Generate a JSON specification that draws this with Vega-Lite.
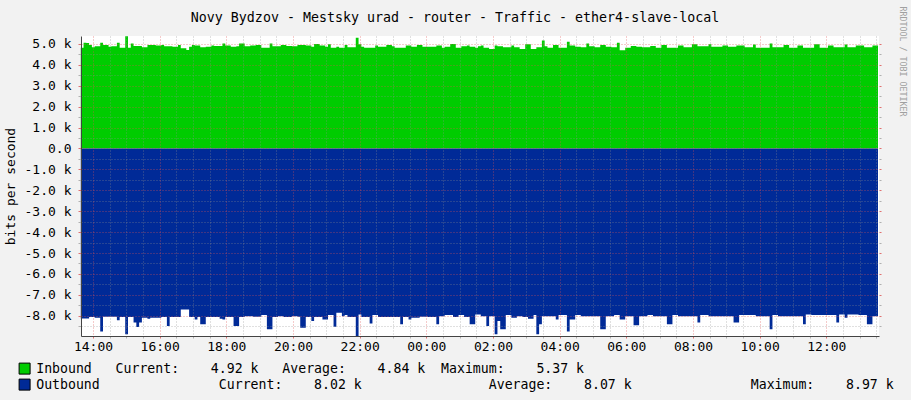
{
  "$schema": "https://vega.github.io/schema/vega-lite/v6.json",
  "width": 798,
  "height": 300,
  "autosize": {"type": "none"},
  "padding": {"left": 81, "top": 36, "right": 32, "bottom": 64},
  "background": "#f2f2f2",
  "config": {"font": "DejaVu Sans Mono", "view": {"stroke": null, "fill": "white"}},
  "title": {"text": "Novy Bydzov - Mestsky urad - router - Traffic - ether4-slave-local", "font": "DejaVu Sans Mono", "fontSize": 13.3, "fontWeight": "normal", "color": "black", "anchor": "middle", "frame": "group", "dx": -25, "offset": -29, "baseline": "alphabetic"},
  "data": {"values": [
{"t":"2024-01-15T13:38","in":4820,"out":-8130},{"t":"2024-01-15T13:43","in":5060,"out":-8130},{"t":"2024-01-15T13:48","in":5040,"out":-8130},{"t":"2024-01-15T13:53","in":4950,"out":-8060},{"t":"2024-01-15T13:58","in":4840,"out":-8060},{"t":"2024-01-15T14:03","in":4890,"out":-8100},{"t":"2024-01-15T14:08","in":4890,"out":-8100},{"t":"2024-01-15T14:13","in":5060,"out":-8760},{"t":"2024-01-15T14:18","in":4950,"out":-8050},{"t":"2024-01-15T14:23","in":4950,"out":-8050},{"t":"2024-01-15T14:28","in":4860,"out":-8050},{"t":"2024-01-15T14:33","in":4890,"out":-8050},
{"t":"2024-01-15T14:38","in":4890,"out":-8050},{"t":"2024-01-15T14:43","in":5060,"out":-8220},{"t":"2024-01-15T14:48","in":4820,"out":-8060},{"t":"2024-01-15T14:53","in":4820,"out":-8060},{"t":"2024-01-15T14:58","in":5370,"out":-8890},{"t":"2024-01-15T15:03","in":4820,"out":-8060},{"t":"2024-01-15T15:08","in":5020,"out":-8060},{"t":"2024-01-15T15:13","in":4900,"out":-8330},{"t":"2024-01-15T15:18","in":4900,"out":-8540},{"t":"2024-01-15T15:23","in":4900,"out":-8330},{"t":"2024-01-15T15:28","in":4840,"out":-8100},{"t":"2024-01-15T15:33","in":4840,"out":-8100},
{"t":"2024-01-15T15:38","in":4950,"out":-8140},{"t":"2024-01-15T15:43","in":4950,"out":-8100},{"t":"2024-01-15T15:48","in":4950,"out":-8100},{"t":"2024-01-15T15:53","in":4920,"out":-8100},{"t":"2024-01-15T15:58","in":4920,"out":-8100},{"t":"2024-01-15T16:03","in":4950,"out":-8060},{"t":"2024-01-15T16:08","in":4890,"out":-8060},{"t":"2024-01-15T16:13","in":4890,"out":-8490},{"t":"2024-01-15T16:18","in":4890,"out":-8060},{"t":"2024-01-15T16:23","in":4870,"out":-8060},{"t":"2024-01-15T16:28","in":4870,"out":-8060},{"t":"2024-01-15T16:33","in":4950,"out":-8060},
{"t":"2024-01-15T16:38","in":4790,"out":-7700},{"t":"2024-01-15T16:43","in":4790,"out":-7700},{"t":"2024-01-15T16:48","in":4710,"out":-7700},{"t":"2024-01-15T16:53","in":4870,"out":-8060},{"t":"2024-01-15T16:58","in":4950,"out":-8060},{"t":"2024-01-15T17:03","in":4920,"out":-8180},{"t":"2024-01-15T17:08","in":4920,"out":-8060},{"t":"2024-01-15T17:13","in":4840,"out":-8410},{"t":"2024-01-15T17:18","in":4840,"out":-8410},{"t":"2024-01-15T17:23","in":4870,"out":-8060},{"t":"2024-01-15T17:28","in":4870,"out":-8060},{"t":"2024-01-15T17:33","in":4920,"out":-8060},
{"t":"2024-01-15T17:38","in":4900,"out":-8060},{"t":"2024-01-15T17:43","in":4900,"out":-8060},{"t":"2024-01-15T17:48","in":4900,"out":-8140},{"t":"2024-01-15T17:53","in":5020,"out":-8180},{"t":"2024-01-15T17:58","in":4920,"out":-8060},{"t":"2024-01-15T18:03","in":4920,"out":-8060},{"t":"2024-01-15T18:08","in":4860,"out":-8060},{"t":"2024-01-15T18:13","in":4860,"out":-8490},{"t":"2024-01-15T18:18","in":4890,"out":-8490},{"t":"2024-01-15T18:23","in":5020,"out":-8060},{"t":"2024-01-15T18:28","in":5020,"out":-8060},{"t":"2024-01-15T18:33","in":4890,"out":-8020},
{"t":"2024-01-15T18:38","in":4890,"out":-8020},{"t":"2024-01-15T18:43","in":4920,"out":-8020},{"t":"2024-01-15T18:48","in":4920,"out":-8050},{"t":"2024-01-15T18:53","in":4950,"out":-8050},{"t":"2024-01-15T18:58","in":4950,"out":-8050},{"t":"2024-01-15T19:03","in":4820,"out":-7970},{"t":"2024-01-15T19:08","in":4820,"out":-7970},{"t":"2024-01-15T19:13","in":4820,"out":-8650},{"t":"2024-01-15T19:18","in":5020,"out":-8650},{"t":"2024-01-15T19:23","in":4890,"out":-8060},{"t":"2024-01-15T19:28","in":4890,"out":-8060},{"t":"2024-01-15T19:33","in":4890,"out":-8030},
{"t":"2024-01-15T19:38","in":4950,"out":-8030},{"t":"2024-01-15T19:43","in":4950,"out":-8060},{"t":"2024-01-15T19:48","in":4900,"out":-8060},{"t":"2024-01-15T19:53","in":4900,"out":-8060},{"t":"2024-01-15T19:58","in":4890,"out":-8020},{"t":"2024-01-15T20:03","in":4890,"out":-8020},{"t":"2024-01-15T20:08","in":4950,"out":-8050},{"t":"2024-01-15T20:13","in":4950,"out":-8570},{"t":"2024-01-15T20:18","in":4950,"out":-8570},{"t":"2024-01-15T20:23","in":4920,"out":-8060},{"t":"2024-01-15T20:28","in":4920,"out":-8060},{"t":"2024-01-15T20:33","in":4860,"out":-8250},
{"t":"2024-01-15T20:38","in":5000,"out":-8060},{"t":"2024-01-15T20:43","in":5000,"out":-8060},{"t":"2024-01-15T20:48","in":4920,"out":-8060},{"t":"2024-01-15T20:53","in":4920,"out":-8180},{"t":"2024-01-15T20:58","in":4860,"out":-8180},{"t":"2024-01-15T21:03","in":4980,"out":-7970},{"t":"2024-01-15T21:08","in":4820,"out":-7970},{"t":"2024-01-15T21:13","in":4820,"out":-8530},{"t":"2024-01-15T21:18","in":4870,"out":-7860},{"t":"2024-01-15T21:23","in":4820,"out":-7860},{"t":"2024-01-15T21:28","in":4820,"out":-8020},{"t":"2024-01-15T21:33","in":4950,"out":-7970},
{"t":"2024-01-15T21:38","in":4840,"out":-8060},{"t":"2024-01-15T21:43","in":4840,"out":-8060},{"t":"2024-01-15T21:48","in":4840,"out":-8060},{"t":"2024-01-15T21:53","in":5300,"out":-8970},{"t":"2024-01-15T21:58","in":4980,"out":-7940},{"t":"2024-01-15T22:03","in":4860,"out":-8060},{"t":"2024-01-15T22:08","in":4820,"out":-8060},{"t":"2024-01-15T22:13","in":4820,"out":-8060},{"t":"2024-01-15T22:18","in":4820,"out":-8370},{"t":"2024-01-15T22:23","in":4820,"out":-7970},{"t":"2024-01-15T22:28","in":4920,"out":-7970},{"t":"2024-01-15T22:33","in":4860,"out":-8060},
{"t":"2024-01-15T22:38","in":4860,"out":-8060},{"t":"2024-01-15T22:43","in":4860,"out":-8060},{"t":"2024-01-15T22:48","in":4950,"out":-8060},{"t":"2024-01-15T22:53","in":4950,"out":-8060},{"t":"2024-01-15T22:58","in":4890,"out":-8060},{"t":"2024-01-15T23:03","in":4820,"out":-8060},{"t":"2024-01-15T23:08","in":4820,"out":-8060},{"t":"2024-01-15T23:13","in":4820,"out":-8410},{"t":"2024-01-15T23:18","in":4820,"out":-8060},{"t":"2024-01-15T23:23","in":4920,"out":-8060},{"t":"2024-01-15T23:28","in":4920,"out":-8180},{"t":"2024-01-15T23:33","in":4860,"out":-8100},
{"t":"2024-01-15T23:38","in":4860,"out":-8100},{"t":"2024-01-15T23:43","in":4950,"out":-8100},{"t":"2024-01-15T23:48","in":4950,"out":-8050},{"t":"2024-01-15T23:53","in":4860,"out":-8050},{"t":"2024-01-15T23:58","in":4860,"out":-8050},{"t":"2024-01-16T00:03","in":4860,"out":-8060},{"t":"2024-01-16T00:08","in":4860,"out":-8060},{"t":"2024-01-16T00:13","in":4860,"out":-8060},{"t":"2024-01-16T00:18","in":4920,"out":-8410},{"t":"2024-01-16T00:23","in":4920,"out":-8020},{"t":"2024-01-16T00:28","in":4820,"out":-8020},{"t":"2024-01-16T00:33","in":4870,"out":-7970},
{"t":"2024-01-16T00:38","in":4870,"out":-7970},{"t":"2024-01-16T00:43","in":5000,"out":-7970},{"t":"2024-01-16T00:48","in":5000,"out":-8060},{"t":"2024-01-16T00:53","in":4820,"out":-8060},{"t":"2024-01-16T00:58","in":4820,"out":-7970},{"t":"2024-01-16T01:03","in":4890,"out":-7970},{"t":"2024-01-16T01:08","in":4890,"out":-8060},{"t":"2024-01-16T01:13","in":4920,"out":-8060},{"t":"2024-01-16T01:18","in":4860,"out":-8410},{"t":"2024-01-16T01:23","in":4860,"out":-8410},{"t":"2024-01-16T01:28","in":4820,"out":-7940},{"t":"2024-01-16T01:33","in":4890,"out":-7940},
{"t":"2024-01-16T01:38","in":4920,"out":-8020},{"t":"2024-01-16T01:43","in":4820,"out":-8020},{"t":"2024-01-16T01:48","in":4820,"out":-8490},{"t":"2024-01-16T01:53","in":4760,"out":-8020},{"t":"2024-01-16T01:58","in":4760,"out":-8020},{"t":"2024-01-16T02:03","in":4920,"out":-8890},{"t":"2024-01-16T02:08","in":4890,"out":-8250},{"t":"2024-01-16T02:13","in":4890,"out":-8650},{"t":"2024-01-16T02:18","in":4840,"out":-8650},{"t":"2024-01-16T02:23","in":4840,"out":-7970},{"t":"2024-01-16T02:28","in":4840,"out":-7970},{"t":"2024-01-16T02:33","in":4920,"out":-8100},
{"t":"2024-01-16T02:38","in":4840,"out":-8100},{"t":"2024-01-16T02:43","in":4840,"out":-8020},{"t":"2024-01-16T02:48","in":4760,"out":-8020},{"t":"2024-01-16T02:53","in":4760,"out":-8060},{"t":"2024-01-16T02:58","in":4980,"out":-8060},{"t":"2024-01-16T03:03","in":4980,"out":-8140},{"t":"2024-01-16T03:08","in":4760,"out":-8140},{"t":"2024-01-16T03:13","in":4760,"out":-7970},{"t":"2024-01-16T03:18","in":4840,"out":-8890},{"t":"2024-01-16T03:23","in":4840,"out":-8410},{"t":"2024-01-16T03:28","in":5160,"out":-8020},{"t":"2024-01-16T03:33","in":4890,"out":-8020},
{"t":"2024-01-16T03:38","in":4820,"out":-8020},{"t":"2024-01-16T03:43","in":4820,"out":-8020},{"t":"2024-01-16T03:48","in":4950,"out":-8020},{"t":"2024-01-16T03:53","in":4950,"out":-8180},{"t":"2024-01-16T03:58","in":4820,"out":-7970},{"t":"2024-01-16T04:03","in":4820,"out":-7970},{"t":"2024-01-16T04:08","in":4820,"out":-7970},{"t":"2024-01-16T04:13","in":5110,"out":-8760},{"t":"2024-01-16T04:18","in":4920,"out":-8180},{"t":"2024-01-16T04:23","in":4920,"out":-8180},{"t":"2024-01-16T04:28","in":4870,"out":-7970},{"t":"2024-01-16T04:33","in":4870,"out":-7970},
{"t":"2024-01-16T04:38","in":4840,"out":-8020},{"t":"2024-01-16T04:43","in":4840,"out":-8020},{"t":"2024-01-16T04:48","in":5020,"out":-8020},{"t":"2024-01-16T04:53","in":4890,"out":-8020},{"t":"2024-01-16T04:58","in":4890,"out":-8020},{"t":"2024-01-16T05:03","in":4840,"out":-8020},{"t":"2024-01-16T05:08","in":4840,"out":-8020},{"t":"2024-01-16T05:13","in":4950,"out":-8650},{"t":"2024-01-16T05:18","in":4950,"out":-8650},{"t":"2024-01-16T05:23","in":4860,"out":-8020},{"t":"2024-01-16T05:28","in":4860,"out":-8020},{"t":"2024-01-16T05:33","in":4840,"out":-8020},
{"t":"2024-01-16T05:38","in":4840,"out":-7970},{"t":"2024-01-16T05:43","in":5060,"out":-7970},{"t":"2024-01-16T05:48","in":4700,"out":-8180},{"t":"2024-01-16T05:53","in":4700,"out":-8180},{"t":"2024-01-16T05:58","in":4820,"out":-8020},{"t":"2024-01-16T06:03","in":4820,"out":-8020},{"t":"2024-01-16T06:08","in":4900,"out":-8020},{"t":"2024-01-16T06:13","in":4900,"out":-8450},{"t":"2024-01-16T06:18","in":4860,"out":-8450},{"t":"2024-01-16T06:23","in":4860,"out":-8020},{"t":"2024-01-16T06:28","in":4840,"out":-8020},{"t":"2024-01-16T06:33","in":4840,"out":-8020},
{"t":"2024-01-16T06:38","in":4840,"out":-7970},{"t":"2024-01-16T06:43","in":4900,"out":-7970},{"t":"2024-01-16T06:48","in":4900,"out":-8020},{"t":"2024-01-16T06:53","in":4820,"out":-8020},{"t":"2024-01-16T06:58","in":4820,"out":-8020},{"t":"2024-01-16T07:03","in":4950,"out":-8020},{"t":"2024-01-16T07:08","in":4950,"out":-8020},{"t":"2024-01-16T07:13","in":4820,"out":-8410},{"t":"2024-01-16T07:18","in":4820,"out":-8410},{"t":"2024-01-16T07:23","in":4820,"out":-7970},{"t":"2024-01-16T07:28","in":4820,"out":-7970},{"t":"2024-01-16T07:33","in":4920,"out":-8020},
{"t":"2024-01-16T07:38","in":4920,"out":-8020},{"t":"2024-01-16T07:43","in":4840,"out":-8020},{"t":"2024-01-16T07:48","in":4840,"out":-8020},{"t":"2024-01-16T07:53","in":4840,"out":-8020},{"t":"2024-01-16T07:58","in":4980,"out":-8020},{"t":"2024-01-16T08:03","in":4980,"out":-8020},{"t":"2024-01-16T08:08","in":4890,"out":-8330},{"t":"2024-01-16T08:13","in":4890,"out":-7970},{"t":"2024-01-16T08:18","in":4890,"out":-7970},{"t":"2024-01-16T08:23","in":4890,"out":-7970},{"t":"2024-01-16T08:28","in":4980,"out":-8020},{"t":"2024-01-16T08:33","in":4860,"out":-8020},
{"t":"2024-01-16T08:38","in":4860,"out":-8020},{"t":"2024-01-16T08:43","in":4860,"out":-8020},{"t":"2024-01-16T08:48","in":4860,"out":-8020},{"t":"2024-01-16T08:53","in":4920,"out":-8020},{"t":"2024-01-16T08:58","in":4920,"out":-8020},{"t":"2024-01-16T09:03","in":4860,"out":-8020},{"t":"2024-01-16T09:08","in":4860,"out":-8020},{"t":"2024-01-16T09:13","in":4860,"out":-8330},{"t":"2024-01-16T09:18","in":4920,"out":-8330},{"t":"2024-01-16T09:23","in":4920,"out":-7970},{"t":"2024-01-16T09:28","in":4920,"out":-7970},{"t":"2024-01-16T09:33","in":4840,"out":-7970},
{"t":"2024-01-16T09:38","in":4840,"out":-7970},{"t":"2024-01-16T09:43","in":4840,"out":-7970},{"t":"2024-01-16T09:48","in":4970,"out":-7970},{"t":"2024-01-16T09:53","in":4820,"out":-8020},{"t":"2024-01-16T09:58","in":4820,"out":-8020},{"t":"2024-01-16T10:03","in":4820,"out":-8020},{"t":"2024-01-16T10:08","in":4820,"out":-8020},{"t":"2024-01-16T10:13","in":4820,"out":-8020},{"t":"2024-01-16T10:18","in":5020,"out":-8650},{"t":"2024-01-16T10:23","in":4840,"out":-7970},{"t":"2024-01-16T10:28","in":4840,"out":-7970},{"t":"2024-01-16T10:33","in":4840,"out":-8020},
{"t":"2024-01-16T10:38","in":4840,"out":-8020},{"t":"2024-01-16T10:43","in":4950,"out":-8020},{"t":"2024-01-16T10:48","in":4950,"out":-8020},{"t":"2024-01-16T10:53","in":4820,"out":-8020},{"t":"2024-01-16T10:58","in":4820,"out":-8020},{"t":"2024-01-16T11:03","in":4820,"out":-8020},{"t":"2024-01-16T11:08","in":4920,"out":-8020},{"t":"2024-01-16T11:13","in":4920,"out":-8020},{"t":"2024-01-16T11:18","in":4820,"out":-8410},{"t":"2024-01-16T11:23","in":4820,"out":-7940},{"t":"2024-01-16T11:28","in":4820,"out":-7940},{"t":"2024-01-16T11:33","in":4820,"out":-7970},
{"t":"2024-01-16T11:38","in":4980,"out":-7970},{"t":"2024-01-16T11:43","in":4980,"out":-7970},{"t":"2024-01-16T11:48","in":4820,"out":-7970},{"t":"2024-01-16T11:53","in":4820,"out":-7970},{"t":"2024-01-16T11:58","in":4820,"out":-7970},{"t":"2024-01-16T12:03","in":4920,"out":-7970},{"t":"2024-01-16T12:08","in":4920,"out":-7970},{"t":"2024-01-16T12:13","in":4840,"out":-7970},{"t":"2024-01-16T12:18","in":4840,"out":-8330},{"t":"2024-01-16T12:23","in":4840,"out":-7940},{"t":"2024-01-16T12:28","in":4840,"out":-7940},{"t":"2024-01-16T12:33","in":4970,"out":-8100},
{"t":"2024-01-16T12:38","in":4840,"out":-7940},{"t":"2024-01-16T12:43","in":4840,"out":-7940},{"t":"2024-01-16T12:48","in":4840,"out":-7940},{"t":"2024-01-16T12:53","in":4920,"out":-7940},{"t":"2024-01-16T12:58","in":4920,"out":-7970},{"t":"2024-01-16T13:03","in":4920,"out":-7970},{"t":"2024-01-16T13:08","in":4840,"out":-7970},{"t":"2024-01-16T13:13","in":4840,"out":-8410},{"t":"2024-01-16T13:18","in":4840,"out":-8410},{"t":"2024-01-16T13:23","in":4920,"out":-8020},{"t":"2024-01-16T13:28","in":4920,"out":-8020},{"t":"2024-01-16T13:33","in":4920,"out":-8020}
  ]},
  "encoding": {
    "x": {
      "field": "t", "type": "temporal",
      "scale": {"domain": [{"year": 2024, "month": 1, "date": 15, "hours": 13, "minutes": 38, "seconds": 24}, {"year": 2024, "month": 1, "date": 16, "hours": 13, "minutes": 34, "seconds": 48}]},
      "axis": {
        "orient": "bottom", "title": null, "zindex": 1,
        "values": [
          {"year":2024,"month":1,"date":15,"hours":14,"minutes":0},{"year":2024,"month":1,"date":15,"hours":14,"minutes":30},
          {"year":2024,"month":1,"date":15,"hours":15,"minutes":0},{"year":2024,"month":1,"date":15,"hours":15,"minutes":30},
          {"year":2024,"month":1,"date":15,"hours":16,"minutes":0},{"year":2024,"month":1,"date":15,"hours":16,"minutes":30},
          {"year":2024,"month":1,"date":15,"hours":17,"minutes":0},{"year":2024,"month":1,"date":15,"hours":17,"minutes":30},
          {"year":2024,"month":1,"date":15,"hours":18,"minutes":0},{"year":2024,"month":1,"date":15,"hours":18,"minutes":30},
          {"year":2024,"month":1,"date":15,"hours":19,"minutes":0},{"year":2024,"month":1,"date":15,"hours":19,"minutes":30},
          {"year":2024,"month":1,"date":15,"hours":20,"minutes":0},{"year":2024,"month":1,"date":15,"hours":20,"minutes":30},
          {"year":2024,"month":1,"date":15,"hours":21,"minutes":0},{"year":2024,"month":1,"date":15,"hours":21,"minutes":30},
          {"year":2024,"month":1,"date":15,"hours":22,"minutes":0},{"year":2024,"month":1,"date":15,"hours":22,"minutes":30},
          {"year":2024,"month":1,"date":15,"hours":23,"minutes":0},{"year":2024,"month":1,"date":15,"hours":23,"minutes":30},
          {"year":2024,"month":1,"date":16,"hours":0,"minutes":0},{"year":2024,"month":1,"date":16,"hours":0,"minutes":30},
          {"year":2024,"month":1,"date":16,"hours":1,"minutes":0},{"year":2024,"month":1,"date":16,"hours":1,"minutes":30},
          {"year":2024,"month":1,"date":16,"hours":2,"minutes":0},{"year":2024,"month":1,"date":16,"hours":2,"minutes":30},
          {"year":2024,"month":1,"date":16,"hours":3,"minutes":0},{"year":2024,"month":1,"date":16,"hours":3,"minutes":30},
          {"year":2024,"month":1,"date":16,"hours":4,"minutes":0},{"year":2024,"month":1,"date":16,"hours":4,"minutes":30},
          {"year":2024,"month":1,"date":16,"hours":5,"minutes":0},{"year":2024,"month":1,"date":16,"hours":5,"minutes":30},
          {"year":2024,"month":1,"date":16,"hours":6,"minutes":0},{"year":2024,"month":1,"date":16,"hours":6,"minutes":30},
          {"year":2024,"month":1,"date":16,"hours":7,"minutes":0},{"year":2024,"month":1,"date":16,"hours":7,"minutes":30},
          {"year":2024,"month":1,"date":16,"hours":8,"minutes":0},{"year":2024,"month":1,"date":16,"hours":8,"minutes":30},
          {"year":2024,"month":1,"date":16,"hours":9,"minutes":0},{"year":2024,"month":1,"date":16,"hours":9,"minutes":30},
          {"year":2024,"month":1,"date":16,"hours":10,"minutes":0},{"year":2024,"month":1,"date":16,"hours":10,"minutes":30},
          {"year":2024,"month":1,"date":16,"hours":11,"minutes":0},{"year":2024,"month":1,"date":16,"hours":11,"minutes":30},
          {"year":2024,"month":1,"date":16,"hours":12,"minutes":0},{"year":2024,"month":1,"date":16,"hours":12,"minutes":30},
          {"year":2024,"month":1,"date":16,"hours":13,"minutes":0},{"year":2024,"month":1,"date":16,"hours":13,"minutes":30}
        ],
        "labelExpr": "minutes(datum.value) == 0 && hours(datum.value) % 2 == 0 ? timeFormat(datum.value, '%H:%M') : ''",
        "labelFont": "DejaVu Sans Mono", "labelFontSize": 13, "labelColor": "black",
        "labelOverlap": false, "labelFlush": false, "labelPadding": 2,
        "tickSize": 2,
        "tickColor": {"condition": {"test": "minutes(datum.value) == 0 && hours(datum.value) % 2 == 0", "value": "#e07070"}, "value": "#b0b0b0"},
        "domainColor": "#444",
        "grid": true,
        "gridColor": {"condition": {"test": "minutes(datum.value) == 0 && hours(datum.value) % 2 == 0", "value": "rgba(222,80,80,0.6)"}, "value": "rgba(143,143,143,0.55)"},
        "gridDash": [1, 2]
      }
    }
  },
  "layer": [
    {
      "mark": {"type": "area", "interpolate": "step-after", "opacity": 1},
      "encoding": {
        "y": {
          "field": "in", "type": "quantitative", "stack": null,
          "scale": {"domain": [-8970, 5380], "nice": false},
          "axis": {
            "orient": "left", "zindex": 1,
            "values": [-8500,-8000,-7500,-7000,-6500,-6000,-5500,-5000,-4500,-4000,-3500,-3000,-2500,-2000,-1500,-1000,-500,0,500,1000,1500,2000,2500,3000,3500,4000,4500,5000],
            "labelExpr": "datum.value % 1000 == 0 ? (datum.value == 0 ? '0.0' : (datum.value < 0 ? '-' : '') + format(abs(datum.value) / 1000, '.1f') + ' k') : ''",
            "labelFont": "DejaVu Sans Mono", "labelFontSize": 13, "labelColor": "black",
            "labelOverlap": false, "labelFlush": false, "labelPadding": 7,
            "tickSize": 3,
            "tickColor": {"condition": {"test": "datum.value % 1000 == 0", "value": "#e07070"}, "value": "#b0b0b0"},
            "domainColor": "#444",
            "grid": true,
            "gridColor": {"condition": {"test": "datum.value % 1000 == 0", "value": "rgba(222,80,80,0.6)"}, "value": "rgba(143,143,143,0.55)"},
            "gridDash": [1, 2],
            "title": "bits per second",
            "titleFont": "DejaVu Sans Mono", "titleFontSize": 13, "titleFontWeight": "normal", "titleColor": "black",
            "titleAngle": 270, "titleAlign": "center", "titleBaseline": "middle",
            "titleX": -71, "titleY": 150
          }
        },
        "color": {
          "datum": "Inbound", "type": "nominal",
          "scale": {"domain": ["Inbound", "Outbound"], "range": ["#00cc00", "#002a97"]},
          "legend": {
            "orient": "none", "legendX": -63, "legendY": 326, "direction": "vertical",
            "title": null, "padding": 0,
            "symbolType": "square", "symbolSize": 121, "symbolStrokeColor": "black", "symbolStrokeWidth": 1, "symbolOpacity": 1,
            "labelFont": "DejaVu Sans Mono", "labelFontSize": 13.2, "labelColor": "black", "labelLimit": 2000, "labelOffset": 5, "rowPadding": 0,
            "labelExpr": "datum.label == 'Inbound' ? 'Inbound\u00a0\u00a0\u00a0Current:\u00a0\u00a0\u00a0\u00a04.92\u00a0k\u00a0\u00a0\u00a0Average:\u00a0\u00a0\u00a0\u00a04.84\u00a0k\u00a0\u00a0Maximum:\u00a0\u00a0\u00a0\u00a05.37\u00a0k' : 'Outbound\u00a0\u00a0\u00a0\u00a0\u00a0\u00a0\u00a0\u00a0\u00a0\u00a0\u00a0\u00a0\u00a0\u00a0\u00a0Current:\u00a0\u00a0\u00a0\u00a08.02\u00a0k\u00a0\u00a0\u00a0\u00a0\u00a0\u00a0\u00a0\u00a0\u00a0\u00a0\u00a0\u00a0\u00a0\u00a0\u00a0\u00a0Average:\u00a0\u00a0\u00a0\u00a08.07\u00a0k\u00a0\u00a0\u00a0\u00a0\u00a0\u00a0\u00a0\u00a0\u00a0\u00a0\u00a0\u00a0\u00a0\u00a0\u00a0Maximum:\u00a0\u00a0\u00a0\u00a08.97\u00a0k'"
          }
        }
      }
    },
    {
      "mark": {"type": "area", "interpolate": "step-after", "opacity": 1},
      "encoding": {
        "y": {
          "field": "out", "type": "quantitative", "stack": null,
          "scale": {"domain": [-8970, 5380], "nice": false},
          "axis": {
            "orient": "right",
            "values": [-8500,-8000,-7500,-7000,-6500,-6000,-5500,-5000,-4500,-4000,-3500,-3000,-2500,-2000,-1500,-1000,-500,0,500,1000,1500,2000,2500,3000,3500,4000,4500,5000],
            "labels": false, "domain": false, "grid": false,
            "tickSize": 2,
            "tickColor": {"condition": {"test": "datum.value % 1000 == 0", "value": "#e07070"}, "value": "#b0b0b0"},
            "title": "RRDTOOL / TOBI OETIKER",
            "titleFont": "DejaVu Sans Mono", "titleFontSize": 8.3, "titleFontWeight": "normal", "titleColor": "#a0a0a0",
            "titleAngle": 90, "titleAlign": "left", "titleBaseline": "middle",
            "titleX": 22, "titleY": -30
          }
        },
        "color": {"datum": "Outbound", "type": "nominal"}
      }
    }
  ],
  "resolve": {"axis": {"y": "independent"}}
}
